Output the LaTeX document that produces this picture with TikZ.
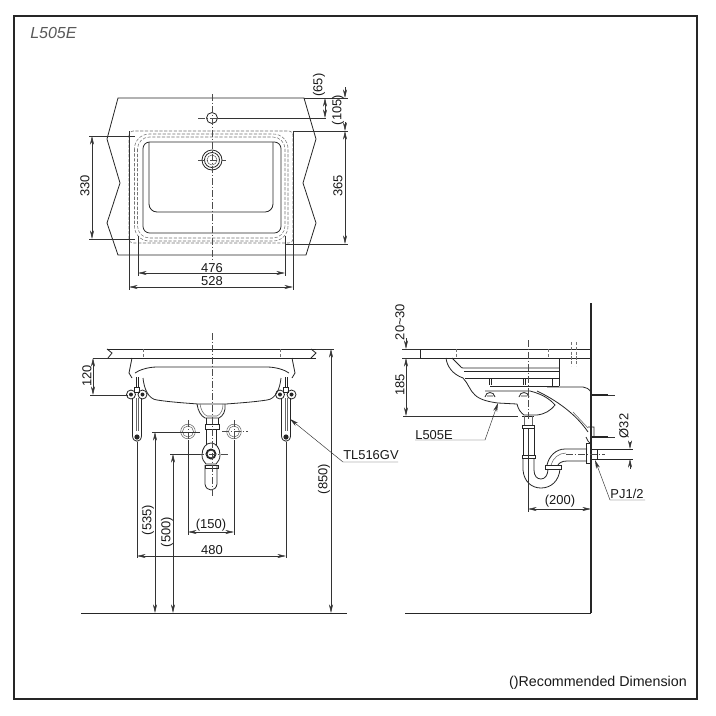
\documentclass[tikz,border=0pt]{standalone}
\usepackage{fontspec}
\setmainfont{Liberation Sans}
\usetikzlibrary{arrows.meta}
\tikzset{
  part/.style={line width=0.6pt,color=black!85},
  thin part/.style={line width=0.4pt,color=black!60},
  hidden/.style={line width=0.4pt,color=black!55,dash pattern=on 2.4pt off 1.2pt},
  axis/.style={line width=0.35pt,color=black!70,dash pattern=on 5pt off 1.5pt on 1pt off 1.5pt},
  ext/.style={line width=0.35pt,color=black!80},
  dim/.style={line width=0.35pt,color=black!80,{Stealth[length=6.5pt,width=3pt]}-{Stealth[length=6.5pt,width=3pt]}},
  lead/.style={line width=0.35pt,color=black!80,-{Stealth[length=6.5pt,width=3pt]}},
  lbl/.style={font=\fontsize{9.7}{11}\selectfont,inner sep=0pt,color=black!90},
  vlbl/.style={lbl,rotate=90}
}
\newcommand{\hanger}[1]{
  \draw [part,shift={(#1,0)}] (-4.5,398) -- (-4.5,436) .. controls (-4,443) and (4,443) .. (4.5,436) -- (4.5,398);
  \draw [line width=0.7pt,color=black!60,shift={(#1,0)}] (-1,398) -- (-1,431) (1,398) -- (1,431);
  \draw [part,shift={(#1,0)}] (-1,377) -- (-1,387) (1,377) -- (1,387) (-2.5,387) rectangle (2.5,392);
  \draw [part,shift={(#1,0)}] (-6,394.5) circle (4.5) (5.5,394.5) circle (4.5);
  \fill [black!85,shift={(#1,0)}] (-6,394.5) circle (2) (5.5,394.5) circle (2) (0,437) circle (2.6);
}
\begin{document}
\begin{tikzpicture}[x=0.75pt,y=-0.75pt]
\useasboundingbox (0,0) rectangle (716,715);
\fill [white] (0,0) rectangle (716,715);

% frame
\draw [line width=1.1pt,color=black!85] (14,16) rectangle (697,699);
\node [inner sep=0pt,anchor=west] (title) at (30,33) {\fontsize{12}{14}\selectfont\itshape\color{black!65}L505E};
\node [lbl,font=\fontsize{10.7}{12}\selectfont,anchor=east] (note) at (687,683) {()Recommended Dimension};

% top view
\draw [part] (118,98) -- (304,98) -- (316,139) -- (303,183) -- (316,223) -- (306,255) -- (118,255) -- (107,223) -- (120,183) -- (107,139) -- cycle;
\draw [hidden,rounded corners=3pt] (129,131) rectangle (293,243);
\draw [hidden,rounded corners=11pt] (134.5,134) rectangle (288,241);
\draw [hidden,rounded corners=9pt] (137.5,137) rectangle (285,238);
\draw [part,rounded corners=5pt] (143,142) rectangle (281,233);
\draw [part,rounded corners=6pt] (149,142) -- (149,212) -- (273,212) -- (273,142);
\draw [part] (212,118) circle (5.5);
\draw [part] (212,160) circle (10) (212,160) circle (7.5);
\draw [thin part] (212,160) circle (5);
\draw [axis] (212,94) -- (212,260);
\draw [axis] (198,118) -- (220,118);
\draw [axis] (198,160) -- (226,160);

% top view dimensions
\draw [ext] (218,118) -- (326,118);
\draw [ext] (304,98) -- (348,98);
\draw [ext] (293,131) -- (348,131);
\draw [ext] (285,244) -- (348,244);
\draw [ext] (89,136) -- (135,136);
\draw [ext] (89,239) -- (135,239);
\draw [ext] (138,236) -- (138,276);
\draw [ext] (285,236) -- (285,276);
\draw [ext] (129,131) -- (129,290);
\draw [ext] (293,131) -- (293,290);
\draw [dim] (92,136) -- (92,239);
\draw [dim] (345,131) -- (345,244);
\draw [dim] (138,273) -- (285,273);
\draw [dim] (129,287) -- (293,287);
\draw [dim] (325,98) -- (325,118);
\draw [lead] (345,87) -- (345,98);
\draw [lead] (345,122) -- (345,131);
\node [vlbl] (d330) at (85,186) {330};
\node [vlbl] (d365) at (338,186) {365};
\node [vlbl] (d65) at (319,85) {(65)};
\node [vlbl] (d105) at (338,110) {(105)};
\node [lbl] (d476) at (212,268) {476};
\node [lbl] (d528) at (212,281) {528};

% front view
\draw [part] (107,349) -- (316,349) (107,358) -- (316,358);
\draw [part] (107,349) -- (112,353) -- (108,358) (311,349) -- (316,353) -- (311,358);
\draw [hidden] (143,349) -- (143,358) (280,349) -- (280,358);
\draw [part] (132,358) -- (129,373) -- (132,378) (292,358) -- (295,373) -- (292,378);
\draw [part] (135,373) .. controls (139,370) and (148,367) .. (157,367) -- (267,367) .. controls (276,367) and (285,370) .. (289,373);
\draw [part] (143,378) .. controls (144,388) and (148,399) .. (157,400) .. controls (170,402) and (185,403) .. (198,404) -- (226,404) .. controls (239,403) and (254,402) .. (267,400) .. controls (276,399) and (280,388) .. (281,378);
\draw [part] (197,404) .. controls (198,411) and (201,416) .. (205,418) -- (219,418) .. controls (223,416) and (226,411) .. (225,404);
\draw [thin part] (200,404) .. controls (201,410) and (203,414) .. (207,416) -- (217,416) .. controls (221,414) and (223,410) .. (223,404);
\draw [part] (205,424) rectangle (219,429);
\draw [part] (206,418) -- (206,424) (218,418) -- (218,424);
\draw [part] (206,429) -- (206,445) (216,429) -- (216,445);
\draw [part] (205,465) -- (205,484) .. controls (206,492) and (216,492) .. (217,484) -- (217,465);
\draw [part] (202,455) .. controls (202,448) and (206,443) .. (211,443) .. controls (216,443) and (220,448) .. (220,455) .. controls (220,459) and (218,462) .. (216,464) -- (206,464) .. controls (204,462) and (202,459) .. (202,455);
\draw [line width=1.4pt,color=black!85] (211,454) circle (4.5);
\draw [part] (205,465) rectangle (218,468);
\draw [axis] (212,333) -- (212,497);
\draw [axis] (197,454) -- (229,454);
\hanger{137}
\hanger{286}
\draw [thin part] (188,431.5) circle (7.3) (188,431.5) circle (5.5);
\draw [thin part] (234,431.5) circle (7.3) (234,431.5) circle (5.5);
\draw [axis] (222,431.5) -- (248,431.5);
\draw [axis] (188,420) -- (188,445);
\draw [axis] (234,420) -- (234,445);
\draw [line width=0.7pt,color=black!85] (81,613) -- (347,613);

% front view dimensions
\draw [ext] (93,358) -- (130,358);
\draw [ext] (90,395) -- (128,395);
\draw [ext] (152,432) -- (200,432);
\draw [ext] (170,454) -- (200,454);
\draw [ext] (188,440) -- (188,535);
\draw [ext] (234,440) -- (234,535);
\draw [ext] (137,442) -- (137,558);
\draw [ext] (286,442) -- (286,558);
\draw [ext] (316,349) -- (334,349);
\draw [dim] (93,358) -- (93,395);
\draw [dim] (155,432) -- (155,613);
\draw [dim] (173,454) -- (173,613);
\draw [dim] (331,349) -- (331,613);
\draw [dim] (188,532) -- (234,532);
\draw [dim] (137,556) -- (286,556);
\node [vlbl] (d120) at (87,376) {120};
\node [vlbl] (d535) at (148,520) {(535)};
\node [vlbl] (d500) at (167,532) {(500)};
\node [vlbl] (d850) at (324,479) {(850)};
\node [lbl] (d150) at (211,525) {(150)};
\node [lbl] (d480) at (212,550) {480};
\node [lbl,anchor=west] (tl) at (343,455) {TL516GV};
\coordinate (tlend) at (398,462);
\coordinate (tlbend) at (343,462);
\coordinate (tltip) at (290,419);
\draw [lead] (tlend) -- (tlbend) -- (tltip);

% side view
\draw [line width=1pt,color=black!85] (591,303) -- (591,613);
\draw [line width=0.7pt,color=black!85] (405,613) -- (591,613);
\draw [part] (420,349) -- (591,349) (420,358) -- (591,358) (420,349) -- (420,358);
\draw [hidden] (456,349) -- (456,358) (548,349) -- (548,358) (571,342) -- (571,366) (576,342) -- (576,366);
\draw [part] (446,358) .. controls (447,366) and (452,374) .. (463,378) .. controls (468,383) and (470,391) .. (475,395) .. controls (480,400) and (490,402) .. (498,403) -- (517,404);
\draw [part] (452,358) -- (460,366) .. controls (461,368) and (462,368) .. (464,368) -- (559,368);
\draw [part] (464,371) -- (559,371);
\draw [part] (465,378) -- (559,378);
\draw [part] (559,358) -- (559,386) (552,379) -- (552,386);
\draw [part] (490,386) -- (559,386);
\draw [part] (547,387) -- (583,387) .. controls (586,387) and (589,389) .. (591,392);
\draw [part] (485,391) -- (530,391) .. controls (542,394) and (550,399) .. (555,405) .. controls (550,411) and (545,414) .. (537,415) -- (524,415) .. controls (521,413) and (518,409) .. (517,404);
\draw [part] (537,391) .. controls (556,400) and (576,414) .. (588,432);
\draw [thin part] (573,412) -- (588,428);
\draw [part] (588,427) -- (594,427) -- (594,437) (586,437) .. controls (587,440) and (589,443) .. (591,444);
\draw [part] (489,378) -- (489,385) (491,378) -- (491,385) (523,378) -- (523,385) (525,378) -- (525,385);
\draw [part] (485,397) .. controls (486,391) and (494,391) .. (495,397) (487,396) -- (493,396);
\draw [part] (519,397) .. controls (520,391) and (528,391) .. (529,397) (521,396) -- (527,396);
\draw [line width=1.4pt,color=black!85] (591,395) -- (608,395) (591,437) -- (608,437);
\draw [ext] (608,395) -- (615,395) (608,437) -- (615,437);

% trap
\draw [part] (522,416) -- (534,416) (522,425) rectangle (534,428);
\draw [thin part] (524,416) -- (524,425) (532,416) -- (532,425);
\draw [part] (523,428) -- (523,455) (534,428) -- (534,455);
\draw [part] (522,455) rectangle (535,458);
\draw [part] (523,458) -- (523,470) .. controls (524,482) and (532,488) .. (541,488) .. controls (551,488) and (559,481) .. (560,469);
\draw [part] (534,458) -- (534,470) .. controls (534,476) and (537,479) .. (541,479) .. controls (545,479) and (548,475) .. (548,469);
\draw [part] (545,465) rectangle (561,469);
\draw [part] (547,465) .. controls (549,456) and (556,449) .. (565,449) -- (587,449);
\draw [thin part] (551,465) .. controls (553,458) and (559,453) .. (566,453);
\draw [part] (558,465) .. controls (559,463) and (562,461) .. (567,461) -- (587,461);
\draw [part] (586,443) rectangle (591,463);
\draw [part] (591,449) -- (633,449) (591,459) -- (633,459);
\draw [part] (597,449) -- (597,459);
\draw [axis] (566,454) -- (605,454);
\draw [axis] (528,340) -- (528,420);

% side view dimensions
\draw [ext] (402,349) -- (420,349);
\draw [ext] (402,358) -- (420,358);
\draw [ext] (403,416) -- (518,416);
\draw [ext] (528,429) -- (528,512);
\draw [dim] (406,358) -- (406,416);
\draw [lead] (406,338) -- (406,349);
\draw [dim] (528,509) -- (591,509);
\draw [lead] (630,442) -- (630,449);
\draw [lead] (630,469) -- (630,459);
\node [vlbl] (d2030) at (400,322) {20\textasciitilde30};
\node [vlbl] (d185) at (400,385) {185};
\node [vlbl] (d32) at (624,426) {Ø32};
\node [lbl] (d200) at (560,501) {(200)};
\node [lbl] (side) at (434,435) {L505E};
\node [lbl] (pj) at (627,494) {PJ1/2};
\coordinate (sideend) at (415,440);
\coordinate (sidebend) at (485,440);
\coordinate (sidetip) at (498,403);
\coordinate (pjend) at (645,500);
\coordinate (pjbend) at (610,500);
\coordinate (pjtip) at (595,460);
\draw [lead] (sideend) -- (sidebend) -- (sidetip);
\draw [lead] (pjend) -- (pjbend) -- (pjtip);
\end{tikzpicture}
\end{document}
